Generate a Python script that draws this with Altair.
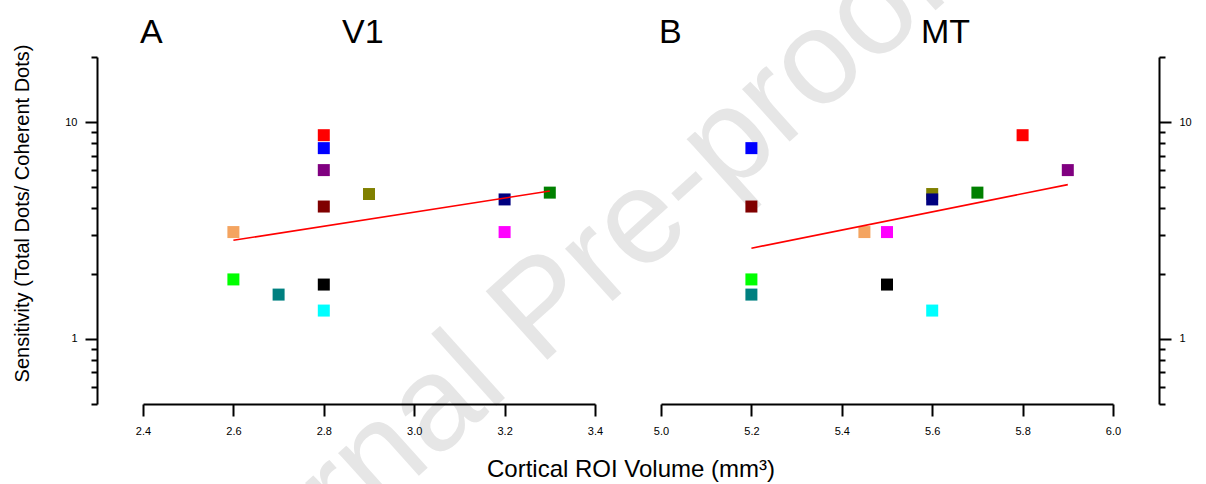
import altair as alt
import pandas as pd

# ---- data ----
subject_colors = ["#ff0000", "#0000ff", "#800080", "#808000", "#800000", "#f4a460",
                  "#00ff00", "#008080", "#000000", "#00ffff", "#000080", "#ff00ff", "#008000"]
sensitivity = [8.71, 7.59, 6.01, 4.66, 4.08, 3.11, 1.88, 1.60, 1.78, 1.35, 4.40, 3.11, 4.73]
v1_volume = [2.8, 2.8, 2.8, 2.9, 2.8, 2.6, 2.6, 2.7, 2.8, 2.8, 3.2, 3.2, 3.3]
mt_volume = [5.8, 5.2, 5.9, 5.6, 5.2, 5.45, 5.2, 5.2, 5.5, 5.6, 5.6, 5.5, 5.7]

v1_fit_x = [2.6, 3.3]
v1_fit_y = [2.85, 4.81]
mt_fit_x = [5.2, 5.9]
mt_fit_y = [2.62, 5.15]

y_ticks = [0.5, 0.6, 0.7, 0.8, 0.9, 1, 2, 3, 4, 5, 6, 7, 8, 9, 10, 20]
y_domain = [0.5, 20]
v1_ticks = [2.4, 2.6, 2.8, 3.0, 3.2, 3.4]
v1_domain = [2.4, 3.4]
mt_ticks = [5.0, 5.2, 5.4, 5.6, 5.8, 6.0]
mt_domain = [5.0, 6.0]

y_title = "Sensitivity (Total Dots/ Coherent Dots)"
x_title = "Cortical ROI Volume (mm³)"
watermark = "Journal Pre-proof"

FONT = "Liberation Sans"
W, H = 452, 347


def y_axis(orient, title):
    kw = dict(
        orient=orient, offset=46, values=y_ticks, grid=False, zindex=1,
        tickSize={"condition": {"test": "datum.value != 1 && datum.value != 10", "value": 6}, "value": 12},
        tickWidth=2, tickColor="black", domainWidth=2, domainColor="black",
        labelExpr="datum.value == 1 || datum.value == 10 ? datum.value : ''",
        labelFontSize=11, labelColor="black", labelPadding=8, labelOverlap=False,
        labelFont=FONT,
    )
    if title:
        kw.update(title=title, titleFontSize=20, titleFontWeight="normal", titleColor="black",
                  titleAngle=270, titleX=-69, titleY=156, titleBaseline="alphabetic",
                  titleAlign="center", titleFont=FONT)
    else:
        kw.update(title=None)
    return alt.Axis(**kw)


def x_axis(ticks):
    return alt.Axis(values=ticks, format=".1f", grid=False, zindex=1, tickSize=12, tickWidth=2,
                    tickColor="black", domainWidth=2, domainColor="black",
                    labelFontSize=11, labelColor="black", labelPadding=9,
                    labelFlush=False, labelOverlap=False, labelFont=FONT, title=None)


def text_layer(txt, x, y, size, align="left", baseline="alphabetic", color="black", angle=0):
    return alt.Chart(pd.DataFrame({"t": [txt]})).mark_text(
        align=align, baseline=baseline, fontSize=size, font=FONT, color=color, angle=angle
    ).encode(x=alt.value(x), y=alt.value(y), text="t:N")


def panel(volume, fit_x, fit_y, x_domain, x_ticks, orient, ytitle, letter, letter_x, name, name_x, extra_back, extra_front):
    df = pd.DataFrame({"vol": volume, "sens": sensitivity, "col": subject_colors})
    fit = pd.DataFrame({"vol": fit_x, "sens": fit_y})
    xax = x_axis(x_ticks)
    yax = y_axis(orient, ytitle)
    xenc = alt.X("vol:Q", scale=alt.Scale(domain=x_domain, nice=False, zero=False), axis=xax)
    yenc = alt.Y("sens:Q", scale=alt.Scale(type="log", domain=y_domain, nice=False), axis=yax)
    pts = alt.Chart(df).mark_square(size=144, opacity=1, strokeWidth=0).encode(
        x=xenc, y=yenc, color=alt.Color("col:N", scale=None))
    line = alt.Chart(fit).mark_line(color="#ff0000", strokeWidth=1.6).encode(x=xenc, y=yenc)
    layers = extra_back + [pts, line,
                           text_layer(letter, letter_x, -14, 34),
                           text_layer(name, name_x, -14, 34)] + extra_front
    return alt.layer(*layers).properties(width=W, height=H)


wm = text_layer(watermark, 400, 253, 134, align="center", baseline="middle",
                color="#e6e6e6", angle=318)
xt = text_layer(x_title, 488, 420, 24, align="center")

left = panel(v1_volume, v1_fit_x, v1_fit_y, v1_domain, v1_ticks, "left", y_title,
             "A", -3, "V1", 199, [wm], [xt])
right = panel(mt_volume, mt_fit_x, mt_fit_y, mt_domain, mt_ticks, "right", None,
              "B", -2, "MT", 260, [], [])

chart = alt.hconcat(left, right, spacing=66, bounds="flush").properties(
    autosize=alt.AutoSizeParams(type="none"),
    padding={"left": 143, "top": 57, "right": 1206 - 143, "bottom": 484 - 57},
).configure(font=FONT, background="white", view=alt.ViewConfig(stroke=None))

chart.save("out.html", embed_options={"renderer": "svg", "actions": False})
